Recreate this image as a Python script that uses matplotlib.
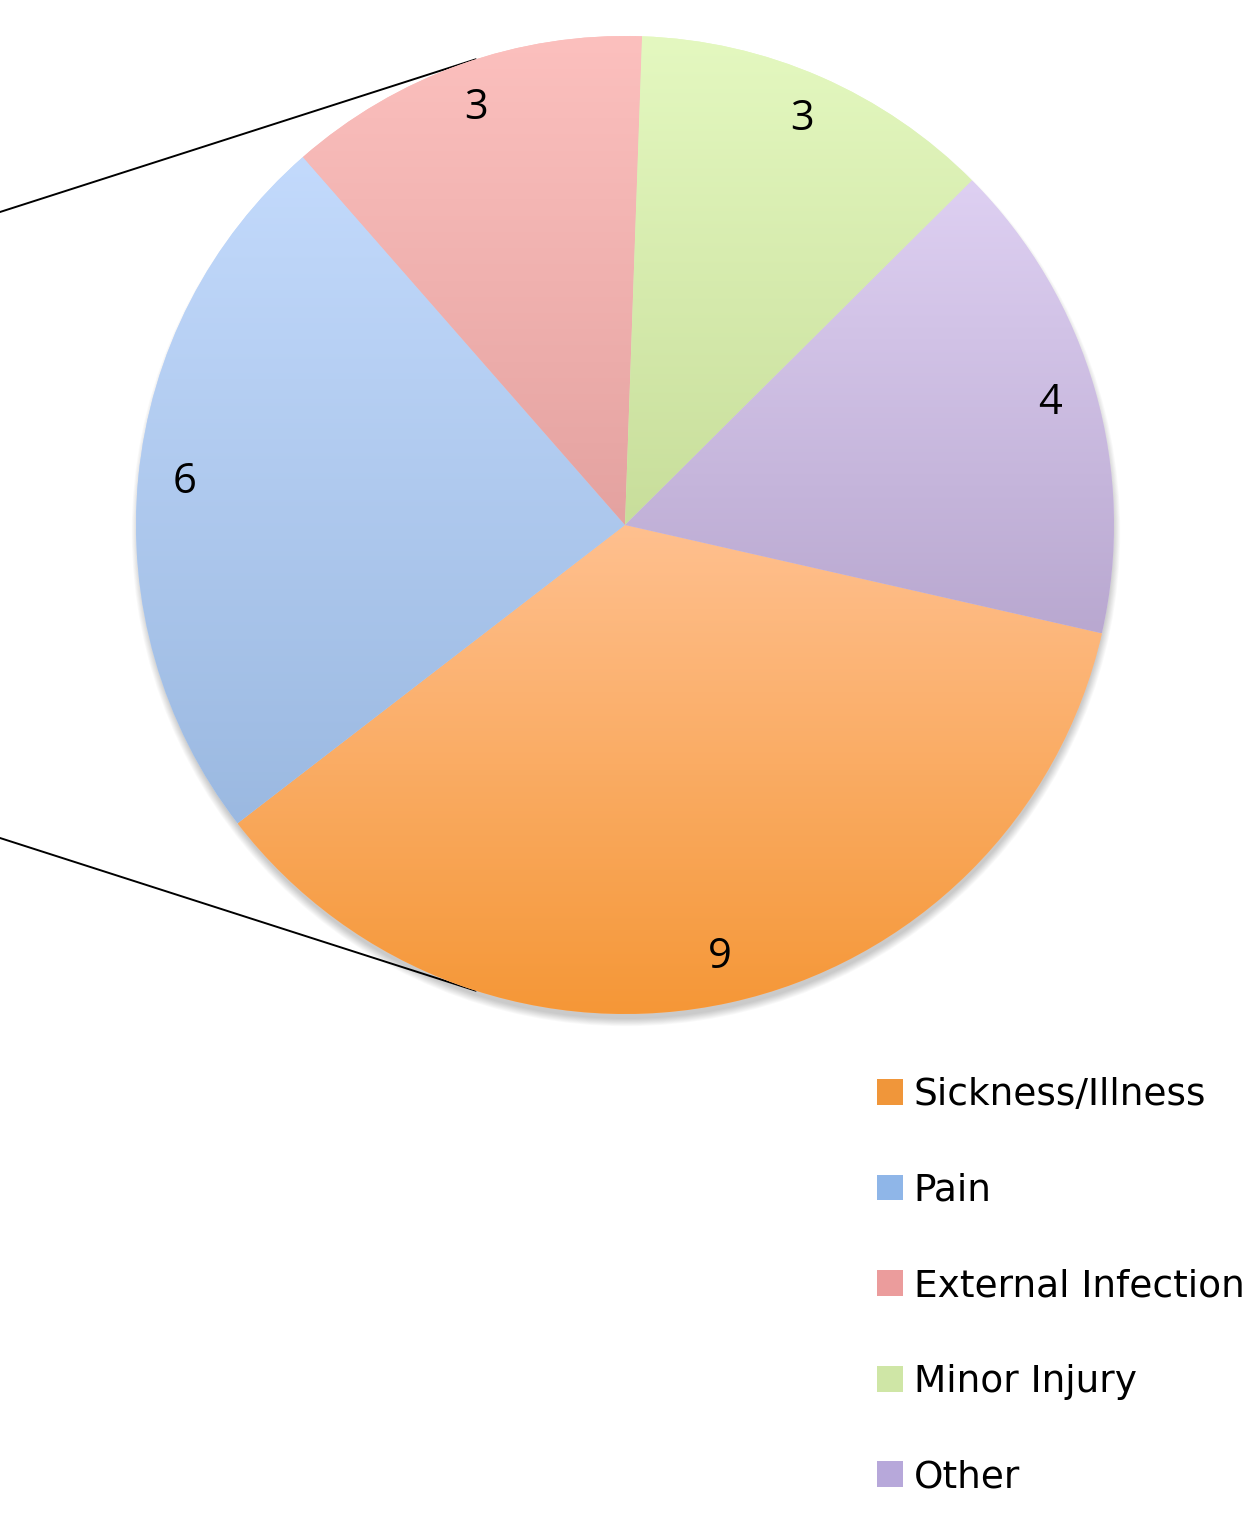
import numpy as np
import matplotlib
matplotlib.use("Agg")
import matplotlib.pyplot as plt
from matplotlib.patches import Patch, Circle
from matplotlib.colors import LinearSegmentedColormap

categories = ["Sickness/Illness", "Pain", "External Infection", "Minor Injury", "Other"]
values = [9, 6, 3, 3, 4]
top_colors = ["#FFC08F", "#C3DAFC", "#FCC0BE", "#E4F8C0", "#DED0F2"]
bottom_colors = ["#F59737", "#9BB9E1", "#E4A2A0", "#C8DE9B", "#B9A8D0"]
legend_colors = ["#F0963A", "#8FB6E8", "#EB9C9C", "#CFE6A6", "#B7A8DA"]

W, H = 1257, 1517
fig = plt.figure(figsize=(W / 100, H / 100), dpi=100)
ax = fig.add_axes([0, 0, 1, 1])
cx, cy, r = 625, H - 525, 489

# soft drop shadow (mostly below the pie)
for k in range(9):
    ax.add_patch(Circle((cx + 1, cy - 7), r - 2 + k * 0.9, facecolor="black",
                        alpha=0.025, lw=0, zorder=0.2))

total = sum(values)
wedges, texts, autotexts = ax.pie(
    values, colors=top_colors, startangle=-12.8, counterclock=False,
    center=(cx, cy), radius=r,
    autopct=lambda p: f"{p * total / 100:.0f}", pctdistance=0.905,
    wedgeprops=dict(linewidth=0),
    textprops=dict(fontsize=30, family=["Open Sans", "DejaVu Sans"], color="black"),
)

grad = np.linspace(0, 1, 256).reshape(-1, 1)
for w, ct, cb in zip(wedges, top_colors, bottom_colors):
    ext = w.get_path().get_extents()
    cmap = LinearSegmentedColormap.from_list("g", [cb, ct])
    im = ax.imshow(grad, cmap=cmap, origin="lower",
                   extent=(ext.x0, ext.x1, ext.y0, ext.y1), aspect="auto",
                   zorder=w.get_zorder() + 0.1, interpolation="bilinear")
    im.set_clip_path(w)

# connector lines to the (cropped) secondary chart
conn_angle = 107.8
conn_offset = 313
for s in (1, -1):
    a = np.deg2rad(s * conn_angle)
    x1, y1 = cx + r * np.cos(a), cy + r * np.sin(a)
    ax.plot([0, x1], [cy + s * conn_offset, y1], color="black", lw=1.4, zorder=0.5)

handles = [Patch(facecolor=c, edgecolor="none") for c in legend_colors]
ax.legend(handles, categories, loc="upper left",
          bbox_to_anchor=(877 / W, 1 - 1077 / H), bbox_transform=ax.transAxes,
          frameon=False, handlelength=0.68, handleheight=0.68,
          handletextpad=0.3, borderpad=0, borderaxespad=0, labelspacing=1.59,
          prop=dict(family="DejaVu Sans", size=27))

ax.set_xlim(0, W)
ax.set_ylim(0, H)
ax.set_aspect("auto")
ax.axis("off")
fig.savefig("out.png", dpi=100, facecolor="white")
